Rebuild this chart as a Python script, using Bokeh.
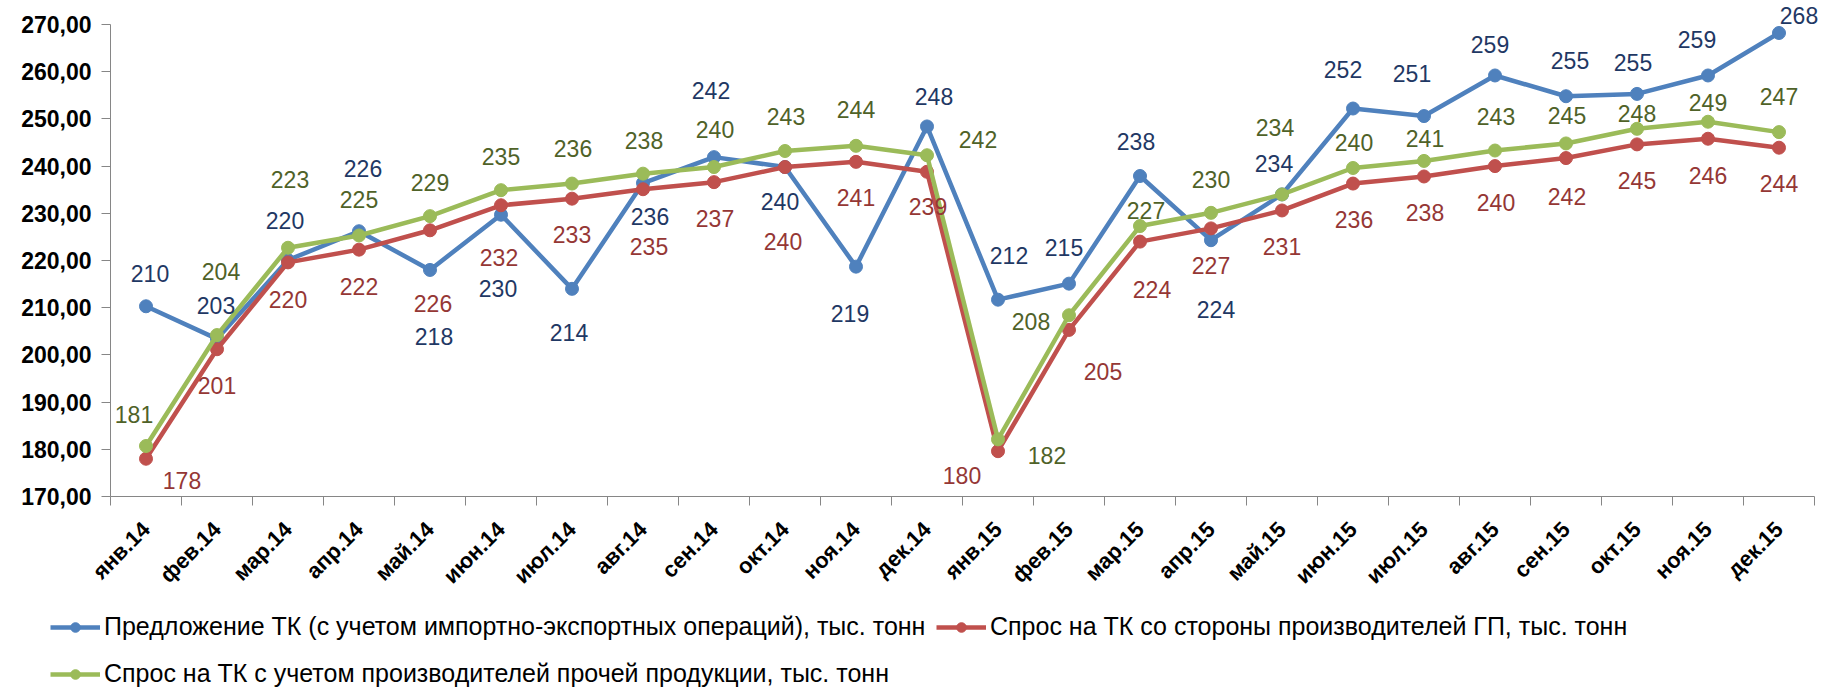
import math
from bokeh.plotting import figure
from bokeh.models import (ColumnDataSource, FixedTicker, Legend, LegendItem,
                          Range1d, LabelSet)
from bokeh.core.properties import value
from bokeh.embed import file_html
from bokeh.resources import INLINE

# ---------------- data ----------------
months = ["янв.14", "фев.14", "мар.14", "апр.14", "май.14", "июн.14",
          "июл.14", "авг.14", "сен.14", "окт.14", "ноя.14", "дек.14",
          "янв.15", "фев.15", "мар.15", "апр.15", "май.15", "июн.15",
          "июл.15", "авг.15", "сен.15", "окт.15", "ноя.15", "дек.15"]

supply = [210.3, 203.4, 220.1, 226.2, 218.0, 229.7, 214.0, 236.4, 241.9, 239.8,
          218.7, 248.4, 211.7, 215.1, 237.9, 224.3, 234.0, 252.2, 250.6, 259.2,
          254.8, 255.3, 259.2, 268.2]
demand_gp = [178.0, 201.2, 219.6, 222.3, 226.4, 231.7, 233.1, 235.1, 236.6, 239.8,
             240.9, 238.8, 179.6, 205.3, 224.0, 226.8, 230.6, 236.3, 237.8, 240.0,
             241.7, 244.6, 245.8, 243.9]
demand_all = [180.7, 204.2, 222.7, 225.3, 229.4, 234.9, 236.3, 238.4, 239.8, 243.2,
              244.3, 242.3, 182.1, 208.4, 227.3, 230.1, 234.0, 239.6, 241.1, 243.3,
              244.8, 247.9, 249.4, 247.2]

series_names = [
    "Предложение ТК (с учетом импортно-экспортных операций), тыс. тонн",
    "Спрос на ТК со стороны производителей ГП, тыс. тонн",
    "Спрос на ТК с учетом производителей прочей продукции, тыс. тонн",
]
y_ticks = [170, 180, 190, 200, 210, 220, 230, 240, 250, 260, 270]
Y_MIN, Y_MAX = 170, 270

# ---------------- label placement (screen px, +dy = down) ----------------
supply_dx = [4, -1, -3, 4, 4, -3, -3, 7, -3, -5, -6, 7, 11, -5, -4, 5, -8, -10, -12, -5, 4, -4, -11, 20]
supply_dy = [-33, -33, -40, -63, 67, 74, 44, 33, -67, 34, 47, -30, -44, -36, -35, 69, -31, -39, -43, -31, -36, -31, -36, -17]
gp_dx = [36, 0, 0, 0, 3, -2, 0, 6, 1, -2, 0, 1, -36, 34, 12, 0, 0, 1, 1, 1, 1, 0, 0, 0]
gp_dy = [22, 36, 37, 37, 73, 52, 36, 57, 36, 74, 36, 35, 24, 42, 48, 37, 36, 36, 36, 36, 38, 36, 37, 36]
all_dx = [-12, 4, 2, 0, 0, 0, 1, 1, 1, 1, 0, 51, 49, -38, 6, 0, -7, 1, 1, 1, 1, 0, 0, 0]
all_dy = [-31, -64, -68, -36, -34, -34, -35, -33, -38, -34, -36, -16, 16, 6, -16, -33, -67, -25, -22, -34, -28, -15, -19, -36]

# ---------------- layout (pixels inside the figure canvas) ----------------
W, H = 1837, 688
PLOT_L, PLOT_R, PLOT_T, PLOT_B = 110, 1814, 24, 496
# legend boxes: (x, y) of bottom-left corner, px from the canvas bottom-left
legend_locs = [(50, 47), (936, 47), (50, 0)]

line_colors = ["#4F81BD", "#C0504D", "#9BBB59"]
label_colors = ["#1F3864", "#953735", "#4F6228"]
AXIS_COLOR = "#868686"
FONT = "Liberation Sans"

n = len(months)
x = [i + 0.5 for i in range(n)]

px_x = (PLOT_R - PLOT_L) / n
px_y = (PLOT_B - PLOT_T) / (Y_MAX - Y_MIN)
x_range = Range1d(-PLOT_L / px_x, n + (W - PLOT_R) / px_x)
y_range = Range1d(Y_MIN - (H - PLOT_B) / px_y, Y_MAX + PLOT_T / px_y)

p = figure(width=W, height=H, output_backend="svg", toolbar_location=None,
           x_range=x_range, y_range=y_range,
           min_border_left=0, min_border_right=0, min_border_top=0,
           min_border_bottom=0, background_fill_color="white",
           border_fill_color="white")
p.outline_line_color = None
p.grid.visible = False

# axes
p.xaxis.fixed_location = Y_MIN
p.xaxis.bounds = (0, n)
p.xaxis.ticker = FixedTicker(ticks=x, minor_ticks=list(range(n + 1)))
p.xaxis.major_label_overrides = {xx: m for xx, m in zip(x, months)}
p.xaxis.major_tick_out = 0
p.xaxis.major_tick_in = 0
p.xaxis.minor_tick_out = 9
p.xaxis.minor_tick_in = 0
p.xaxis.minor_tick_line_color = AXIS_COLOR
p.xaxis.axis_line_color = AXIS_COLOR
p.xaxis.major_label_orientation = math.pi / 4
p.xaxis.major_label_text_font = FONT
p.xaxis.major_label_text_font_style = "bold"
p.xaxis.major_label_text_font_size = "22px"
p.xaxis.major_label_text_color = "black"
p.xaxis.major_label_standoff = 20

p.yaxis.fixed_location = 0
p.yaxis.bounds = (Y_MIN, Y_MAX)
p.yaxis.ticker = FixedTicker(ticks=y_ticks, minor_ticks=[])
p.yaxis.major_label_overrides = {t: f"{t},00" for t in y_ticks}
p.yaxis.major_tick_out = 9
p.yaxis.major_tick_in = 0
p.yaxis.major_tick_line_color = AXIS_COLOR
p.yaxis.axis_line_color = AXIS_COLOR
p.yaxis.major_label_text_font = FONT
p.yaxis.major_label_text_font_style = "bold"
p.yaxis.major_label_text_font_size = "23px"
p.yaxis.major_label_text_color = "black"
p.yaxis.major_label_standoff = 10

all_series = [(supply, supply_dx, supply_dy), (demand_gp, gp_dx, gp_dy), (demand_all, all_dx, all_dy)]
for (vals, dxs, dys), name, lc, tc, loc in zip(all_series, series_names, line_colors,
                                                label_colors, legend_locs):
    src = ColumnDataSource(dict(
        x=x, y=vals, lbl=[f"{v:.0f}" for v in vals],
        dx=dxs, dy=[-d for d in dys]))
    lr = p.line("x", "y", source=src, line_color=lc, line_width=4.5)
    sr = p.scatter("x", "y", source=src, marker="circle", size=13,
                   fill_color=lc, line_color=lc)
    labels = LabelSet(x="x", y="y", text="lbl", source=src, x_offset="dx", y_offset="dy",
                      text_align="center", text_baseline="middle",
                      text_font=value(FONT), text_font_size="23px", text_color=tc)
    p.add_layout(labels)
    leg = Legend(items=[LegendItem(label=name, renderers=[lr, sr])],
                 location=loc, label_text_font=FONT,
                 label_text_font_size="25px", label_text_color="black",
                 glyph_width=50, glyph_height=24, label_height=24, label_standoff=4,
                 padding=0, margin=0, border_line_alpha=0, background_fill_alpha=0)
    p.add_layout(leg)

open("out.html", "w").write(file_html(p, INLINE))
